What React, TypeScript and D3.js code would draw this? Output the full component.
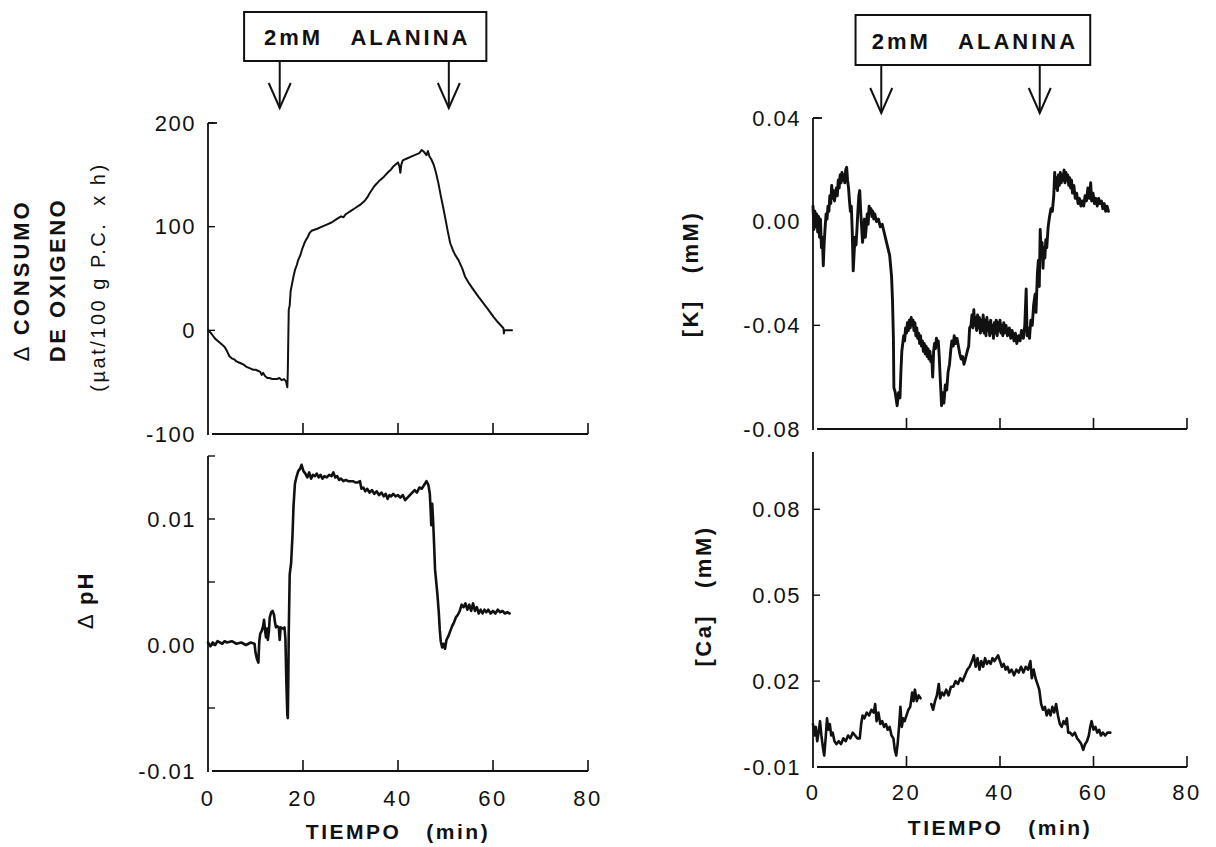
import React from 'react';
import * as d3 from 'd3';

// ---------- data ----------
const TIME_TICKS = [0, 20, 40, 60, 80];
const TIME_TICK_LABELS = ['0', '20', '40', '60', '80'];

const O2_TICKS = [200, 100, 0, -100];
const O2_TICK_LABELS = ['200', '100', '0', '-100'];
const PH_TICKS = [0.015, 0.01, 0.005, 0, -0.005, -0.01];
const PH_TICK_LABELS = ['', '0.01', '', '0.00', '', '-0.01'];
const K_TICKS = [0.04, 0, -0.04, -0.08];
const K_TICK_LABELS = ['0.04', '0.00', '-0.04', '-0.08'];
const CA_TICKS = [0.08, 0.05, 0.02, -0.01];
const CA_TICK_LABELS = ['0.08', '0.05', '0.02', '-0.01'];

const ANNOTATION_TEXT = '2mM ALANINA';
const ARROWS_LEFT = [15.1, 50.7];
const ARROWS_RIGHT = [14.6, 48.5];
const BOX_LEFT = [7.6, 58.6];
const BOX_RIGHT = [9.1, 59.3];

type Pt = [number, number | null];

const O2_TRACE: Pt[] = [
  [0, 0], [0.5, -2], [1, -5], [1.5, -8], [2, -10], [2.5, -12], [3, -14], [3.5, -16], [4, -20], [4.5, -25],
  [5, -27], [5.5, -28], [6, -30], [6.5, -31], [7, -32], [7.5, -33], [8, -35], [8.5, -36], [9, -37], [9.5, -38],
  [10, -38], [10.5, -39], [11, -40], [11.3, -43], [11.6, -41], [12, -44], [12.5, -46], [13, -46], [13.5, -47],
  [14, -47], [14.5, -47], [15, -46], [15.5, -48], [16, -47], [16.4, -49], [16.7, -55], [16.8, -40], [16.9, -10],
  [17.0, 20], [17.2, 24], [17.4, 38], [17.7, 45], [18.0, 52], [18.3, 58], [18.7, 63], [19.0, 68], [19.4, 72],
  [19.8, 78], [20.2, 83], [20.6, 87], [21.0, 90], [21.4, 94], [21.8, 96], [22.4, 97], [23, 98], [24, 100],
  [25, 102], [26, 104], [27, 107], [28, 110], [28.5, 109], [29, 112], [30, 115], [31, 118], [32, 121], [33, 125],
  [33.5, 128], [34, 132], [35, 139], [36, 144], [37, 148], [38, 153], [38.5, 155], [39, 158], [40, 162],
  [40.3, 158], [40.5, 152], [40.7, 160], [41, 164], [42, 166], [43, 168], [43.5, 169], [44, 170], [44.5, 171],
  [45, 174], [45.5, 172], [46, 169], [46.3, 173], [46.6, 168], [47, 165], [47.5, 160], [48, 152], [48.5, 142],
  [49, 130], [49.5, 119], [50, 107], [50.5, 95], [51, 84], [51.5, 78], [52, 73], [52.7, 68], [53.5, 60],
  [54.1, 52], [55, 45], [55.9, 39], [57, 32], [58, 26], [59, 20], [60.1, 13], [61, 8], [62.2, 2], [62.3, -3],
  [62.4, 0], [64, 0],
];

const PH_TRACE: Pt[] = [
  [0, 0.0002], [0.5, -0.0001], [1, 0.0002], [1.5, 0.0], [2, 0.0003], [3, 0.0001], [3.5, 0.0003], [4, 0.0002],
  [5, 0.0003], [6, 0.0001], [7, 0.0002], [8, 0.0], [9, 0.0002], [9.8, 0.0001], [10.0, -0.0006], [10.3, -0.0011],
  [10.6, -0.0014], [10.8, 0.0003], [11.0, 0.0009], [11.3, 0.0011], [11.6, 0.0015], [11.8, 0.002], [12.0, 0.0012],
  [12.2, 0.0006], [12.4, 0.0013], [12.6, 0.0004], [12.8, 0.001], [13.0, 0.0022], [13.3, 0.0026], [13.6, 0.0027],
  [13.9, 0.0024], [14.1, 0.0018], [14.3, 0.0014], [14.6, 0.0015], [14.9, 0.0014], [15.1, 0.0004], [15.3, 0.0014],
  [15.8, 0.0013], [16.1, 0.0014], [16.3, 0.0005], [16.5, -0.003], [16.7, -0.0055], [16.8, -0.0058], [16.9, -0.003],
  [17.0, 0.001], [17.2, 0.0056], [17.5, 0.0065], [17.8, 0.0088], [18.0, 0.011], [18.3, 0.0128], [18.6, 0.0133],
  [19.0, 0.0138], [19.4, 0.014], [19.7, 0.0143], [20.1, 0.0138], [20.5, 0.0136], [20.9, 0.0133], [21.3, 0.0137],
  [21.7, 0.0132], [22.1, 0.0135], [22.5, 0.0134], [22.9, 0.0136], [23.3, 0.0133], [23.7, 0.0135], [24.1, 0.0132],
  [24.5, 0.0134], [25.0, 0.0133], [25.5, 0.0135], [26.0, 0.0134], [26.4, 0.0137], [26.8, 0.0133], [27.2, 0.0134],
  [27.6, 0.0131], [28.0, 0.0132], [28.5, 0.013], [29.0, 0.0131], [29.5, 0.013], [30, 0.013], [30.5, 0.013],
  [31, 0.0129], [31.5, 0.0129], [32.0, 0.013], [32.3, 0.0124], [32.7, 0.0125], [33.1, 0.0122], [33.5, 0.0124],
  [34.0, 0.0121], [34.5, 0.0123], [35.0, 0.012], [35.5, 0.0122], [36, 0.0119], [36.5, 0.0121], [37, 0.0118],
  [37.4, 0.012], [37.8, 0.0116], [38.2, 0.0119], [38.6, 0.0118], [39, 0.012], [39.5, 0.0118], [40, 0.0119],
  [40.5, 0.0117], [41, 0.0119], [41.5, 0.0115], [42, 0.0117], [42.5, 0.0119], [43, 0.0121], [43.5, 0.0123],
  [44, 0.0121], [44.5, 0.0125], [45, 0.0124], [45.5, 0.0127], [46, 0.013], [46.4, 0.0127], [46.7, 0.012],
  [46.9, 0.0105], [47.0, 0.0095], [47.2, 0.0112], [47.4, 0.0098], [47.6, 0.008], [47.8, 0.006], [48.0, 0.0052],
  [48.3, 0.004], [48.6, 0.0025], [48.8, 0.0012], [49.0, 0.0003], [49.3, -0.0002], [49.6, 0.0001], [49.9, -0.0003],
  [50.2, 0.0004], [50.6, 0.0007], [51.0, 0.0011], [51.4, 0.0015], [51.8, 0.0018], [52.2, 0.0022], [52.6, 0.0024],
  [53.0, 0.0027], [53.4, 0.0032], [53.8, 0.003], [54.2, 0.0033], [54.6, 0.0028], [55.0, 0.0032], [55.4, 0.0027],
  [55.8, 0.0033], [56.2, 0.0027], [56.6, 0.003], [57, 0.0025], [57.4, 0.0028], [57.8, 0.0025], [58.2, 0.0028],
  [58.6, 0.0026], [59, 0.0028], [59.5, 0.0025], [60, 0.0027], [60.5, 0.0025], [61, 0.0028], [61.5, 0.0026],
  [62, 0.0027], [62.5, 0.0025], [63, 0.0026], [63.5, 0.0025],
];

const K_TRACE: Pt[] = [
  [0, 0.006], [0.2, -0.003], [0.4, 0.004], [0.6, -0.002], [0.8, 0.003], [1.0, -0.004], [1.2, 0.002], [1.4, -0.006],
  [1.6, 0.001], [1.8, -0.01], [2.0, -0.006], [2.2, -0.017], [2.4, -0.008], [2.6, -0.002], [2.8, 0.003], [3.0, 0.001],
  [3.2, 0.006], [3.4, 0.004], [3.6, 0.01], [3.8, 0.007], [4.0, 0.014], [4.2, 0.009], [4.4, 0.012], [4.6, 0.008],
  [4.8, 0.011], [5.0, 0.013], [5.2, 0.01], [5.4, 0.016], [5.6, 0.013], [5.8, 0.018], [6.0, 0.015], [6.2, 0.019],
  [6.4, 0.016], [6.6, 0.018], [6.8, 0.015], [7.0, 0.02], [7.2, 0.021], [7.4, 0.016], [7.6, 0.013], [7.8, 0.008],
  [8.0, 0.004], [8.2, 0.006], [8.4, -0.004], [8.6, -0.019], [8.8, -0.012], [9.0, -0.006], [9.2, -0.009],
  [9.4, -0.003], [9.6, 0.004], [9.8, 0.01], [10.0, 0.012], [10.2, 0.004], [10.4, -0.002], [10.6, -0.008],
  [10.8, -0.004], [11.0, 0.001], [11.2, -0.006], [11.4, -0.002], [11.6, 0.003], [11.8, -0.001], [12.0, 0.006],
  [12.2, 0.004], [12.4, 0.005], [12.6, 0.002], [12.8, 0.004], [13.0, 0.001], [13.2, 0.003], [13.6, 0.0],
  [14.0, 0.001], [14.4, -0.002], [14.8, -0.001], [15.2, -0.004], [15.6, -0.007], [16.0, -0.01], [16.4, -0.013],
  [16.8, -0.021], [17.0, -0.03], [17.2, -0.045], [17.3, -0.064], [17.6, -0.066], [18.0, -0.071], [18.3, -0.066],
  [18.6, -0.068], [18.8, -0.058], [19.0, -0.05], [19.2, -0.047], [19.4, -0.044], [19.6, -0.046], [19.8, -0.041],
  [20.0, -0.043], [20.2, -0.039], [20.4, -0.042], [20.6, -0.038], [20.8, -0.041], [21.0, -0.037], [21.2, -0.04],
  [21.4, -0.038], [21.6, -0.042], [21.8, -0.039], [22.0, -0.044], [22.2, -0.041], [22.4, -0.045], [22.6, -0.043],
  [22.8, -0.047], [23.0, -0.044], [23.2, -0.048], [23.4, -0.046], [23.6, -0.05], [23.8, -0.047], [24.0, -0.051],
  [24.2, -0.048], [24.4, -0.052], [24.6, -0.049], [24.8, -0.053], [25.0, -0.05], [25.2, -0.054], [25.4, -0.052],
  [25.6, -0.06], [25.8, -0.05], [26.0, -0.047], [26.2, -0.049], [26.4, -0.045], [26.6, -0.048], [26.8, -0.046],
  [27.0, -0.052], [27.2, -0.06], [27.5, -0.071], [27.8, -0.066], [28.0, -0.07], [28.3, -0.063], [28.6, -0.065],
  [28.9, -0.058], [29.2, -0.055], [29.5, -0.049], [29.7, -0.046], [30.0, -0.048], [30.2, -0.044], [30.5, -0.047],
  [30.8, -0.045], [31.1, -0.048], [31.4, -0.051], [31.7, -0.053], [32.0, -0.052], [32.3, -0.055], [32.6, -0.053],
  [33.0, -0.05], [33.3, -0.048], [33.5, -0.041], [33.8, -0.04], [34.0, -0.036], [34.2, -0.041], [34.4, -0.034],
  [34.6, -0.04], [34.8, -0.037], [35.0, -0.042], [35.2, -0.036], [35.4, -0.041], [35.6, -0.037], [35.8, -0.043],
  [36.0, -0.038], [36.2, -0.042], [36.4, -0.036], [36.6, -0.043], [36.8, -0.038], [37.0, -0.044], [37.2, -0.037],
  [37.4, -0.042], [37.6, -0.039], [37.8, -0.044], [38.0, -0.038], [38.2, -0.043], [38.4, -0.04], [38.6, -0.045],
  [38.8, -0.039], [39.0, -0.043], [39.2, -0.038], [39.4, -0.044], [39.6, -0.039], [39.8, -0.042], [40.0, -0.038],
  [40.2, -0.043], [40.4, -0.04], [40.6, -0.044], [40.8, -0.039], [41.0, -0.043], [41.3, -0.04], [41.6, -0.044],
  [42.0, -0.041], [42.3, -0.045], [42.6, -0.042], [43.0, -0.046], [43.3, -0.043], [43.6, -0.047], [44.0, -0.044],
  [44.3, -0.046], [44.6, -0.042], [45.0, -0.045], [45.3, -0.04], [45.6, -0.026], [45.8, -0.044], [46.0, -0.041],
  [46.3, -0.045], [46.6, -0.038], [46.9, -0.04], [47.2, -0.032], [47.5, -0.028], [47.7, -0.035], [48.0, -0.02],
  [48.2, -0.015], [48.4, -0.025], [48.6, -0.003], [48.8, -0.012], [49.0, -0.008], [49.2, -0.018], [49.4, -0.01],
  [49.6, -0.014], [49.8, -0.007], [50.0, -0.01], [50.3, -0.002], [50.6, 0.002], [50.9, 0.005], [51.2, 0.004],
  [51.5, 0.01], [51.7, 0.019], [51.9, 0.013], [52.1, 0.017], [52.3, 0.012], [52.5, 0.018], [52.7, 0.014],
  [52.9, 0.019], [53.1, 0.015], [53.3, 0.018], [53.5, 0.016], [53.7, 0.02], [53.9, 0.015], [54.1, 0.019],
  [54.3, 0.016], [54.5, 0.018], [54.7, 0.014], [54.9, 0.017], [55.1, 0.013], [55.3, 0.016], [55.5, 0.011],
  [55.8, 0.014], [56.1, 0.009], [56.4, 0.011], [56.7, 0.007], [57.0, 0.009], [57.3, 0.006], [57.6, 0.008],
  [57.9, 0.006], [58.2, 0.01], [58.5, 0.008], [58.8, 0.013], [59.1, 0.009], [59.4, 0.015], [59.6, 0.008],
  [59.9, 0.011], [60.2, 0.007], [60.5, 0.009], [60.8, 0.006], [61.1, 0.009], [61.4, 0.007], [61.7, 0.008],
  [62.0, 0.005], [62.3, 0.007], [62.6, 0.004], [62.9, 0.006], [63.2, 0.004],
];

const CA_TRACE: Pt[] = [
  [0, 0.005], [0.3, 0.001], [0.6, 0.004], [0.9, -0.001], [1.2, 0.002], [1.5, 0.006], [1.8, 0.001], [2.1, -0.003],
  [2.4, -0.006], [2.7, 0.0], [3.0, 0.007], [3.3, 0.003], [3.6, 0.005], [3.9, 0.001], [4.2, 0.002], [4.6, -0.001],
  [5.0, -0.002], [5.5, -0.001], [6.0, -0.002], [6.5, 0.0], [7.0, -0.001], [7.5, 0.001], [8.0, 0.0], [8.5, 0.002],
  [9.0, 0.001], [9.5, 0.0], [10.0, 0.0], [10.3, 0.005], [10.6, 0.008], [11.0, 0.007], [11.5, 0.009], [12.0, 0.008],
  [12.5, 0.01], [13.0, 0.009], [13.3, 0.012], [13.6, 0.006], [14.0, 0.009], [14.4, 0.005], [14.8, 0.006],
  [15.2, 0.004], [15.6, 0.005], [16.0, 0.003], [16.4, 0.004], [16.8, 0.001], [17.2, 0.0], [17.5, -0.004],
  [17.8, -0.006], [18.1, -0.002], [18.4, 0.004], [18.7, 0.011], [19.0, 0.004], [19.3, 0.007], [19.6, 0.006],
  [20.0, 0.008], [20.4, 0.01], [20.8, 0.011], [21.2, 0.016], [21.5, 0.013], [21.8, 0.017], [22.2, 0.013],
  [22.6, 0.015], [23.0, 0.014], [24.0, null], [25.3, 0.012], [25.7, 0.01], [26.1, 0.013], [26.5, 0.015],
  [26.9, 0.019], [27.2, 0.014], [27.6, 0.016], [28.0, 0.015], [28.5, 0.017], [29.0, 0.015], [29.5, 0.018],
  [30.0, 0.018], [30.5, 0.02], [31.0, 0.019], [31.5, 0.021], [32.0, 0.02], [32.5, 0.022], [33.0, 0.024],
  [33.5, 0.025], [34.0, 0.027], [34.4, 0.029], [34.8, 0.025], [35.2, 0.028], [35.6, 0.024], [36.0, 0.027],
  [36.4, 0.025], [36.8, 0.028], [37.2, 0.026], [37.6, 0.027], [38.0, 0.026], [38.4, 0.028], [38.8, 0.027],
  [39.2, 0.028], [39.6, 0.029], [40.0, 0.027], [40.4, 0.025], [40.8, 0.026], [41.2, 0.024], [41.6, 0.025],
  [42.0, 0.023], [42.5, 0.024], [43.0, 0.022], [43.5, 0.024], [44.0, 0.023], [44.5, 0.025], [45.0, 0.023],
  [45.5, 0.025], [46.0, 0.024], [46.5, 0.027], [46.8, 0.021], [47.2, 0.024], [47.6, 0.021], [48.0, 0.019],
  [48.4, 0.017], [48.8, 0.012], [49.2, 0.01], [49.6, 0.011], [50.0, 0.008], [50.4, 0.01], [50.8, 0.008],
  [51.2, 0.011], [51.6, 0.009], [52.0, 0.012], [52.4, 0.008], [52.8, 0.005], [53.2, 0.004], [53.6, 0.006],
  [54.0, 0.005], [54.3, 0.007], [54.6, 0.002], [55.0, 0.002], [55.5, 0.001], [56.0, 0.002], [56.5, 0.0],
  [57.0, -0.001], [57.4, -0.002], [57.8, -0.004], [58.2, -0.002], [58.6, -0.001], [59.0, 0.001], [59.3, 0.004],
  [59.6, 0.006], [60.0, 0.003], [60.4, 0.004], [60.8, 0.002], [61.2, 0.003], [61.6, 0.001], [62.0, 0.002],
  [62.5, 0.001], [63.0, 0.002], [63.6, 0.002],
];

// ---------- drawing ----------
const FONT = "'Liberation Sans', Arial, Helvetica, sans-serif";
const INK = '#111';

type Scale = d3.ScaleLinear<number, number>;

function Panel(props: {
  xs: Scale; ys: Scale; data: Pt[]; ticks: number[]; tickLabels: string[];
  topBracket: boolean; xLabels: boolean; traceWidth: number; xLabelY: number;
}) {
  const { xs, ys, data, ticks, tickLabels, topBracket, xLabels, traceWidth, xLabelY } = props;
  const x0 = xs(0);
  const [yBottom, yTop] = ys.range();
  const line = d3.line<Pt>()
    .defined((d) => d[1] !== null)
    .x((d) => xs(d[0]))
    .y((d) => ys(d[1] as number));
  const bottomVal = ys.domain()[0];
  return (
    <g>
      <line x1={x0} x2={x0} y1={yTop} y2={yBottom + 1} stroke={INK} strokeWidth={1.8} />
      {topBracket && <line x1={x0} x2={x0 + 9} y1={yTop} y2={yTop} stroke={INK} strokeWidth={1.8} />}
      {ticks.filter((t) => t !== bottomVal).map((t) => (
        <line key={'yt' + t} x1={x0} x2={x0 + 7} y1={ys(t)} y2={ys(t)} stroke={INK} strokeWidth={1.4} />
      ))}
      {ticks.map((t, i) => tickLabels[i] ? (
        <text key={'yl' + t} x={x0 - 12} y={ys(t)} textAnchor="end" dominantBaseline="central"
          fontFamily={FONT} fontSize={22} letterSpacing={1.5} fill={INK}>{tickLabels[i]}</text>
      ) : null)}
      <line x1={x0 + 4} x2={xs(80)} y1={yBottom} y2={yBottom} stroke={INK} strokeWidth={1.8} />
      {TIME_TICKS.filter((t) => t > 0).map((t) => (
        <line key={'xt' + t} x1={xs(t)} x2={xs(t)} y1={yBottom} y2={yBottom - 11} stroke={INK} strokeWidth={1.6} />
      ))}
      {xLabels && TIME_TICKS.map((t, i) => (
        <text key={'xl' + t} x={xs(t)} y={xLabelY} textAnchor="middle" dominantBaseline="central"
          fontFamily={FONT} fontSize={22} letterSpacing={2.5} fill={INK}>{TIME_TICK_LABELS[i]}</text>
      ))}
      <path d={line(data) || ''} fill="none" stroke={INK} strokeWidth={traceWidth}
        strokeLinejoin="round" strokeLinecap="round" />
    </g>
  );
}

function Annotation(props: { xs: Scale; box: number[]; arrows: number[]; top: number; bottom: number; tip: number }) {
  const { xs, box, arrows, top, bottom, tip } = props;
  const bx0 = xs(box[0]);
  const bx1 = xs(box[1]);
  const parts = ANNOTATION_TEXT.split(' ');
  return (
    <g>
      <rect x={bx0} y={top} width={bx1 - bx0} height={bottom - top} fill="#fff" stroke={INK} strokeWidth={2} />
      <text x={(bx0 + bx1) / 2 + 2} y={(top + bottom) / 2 + 1} textAnchor="middle" dominantBaseline="central"
        fontFamily={FONT} fontWeight="bold" fontSize={22} letterSpacing={3} fill={INK}>
        {parts[0] + '\u00a0\u00a0\u00a0' + parts[1]}
      </text>
      {arrows.map((a) => {
        const ax = xs(a);
        return (
          <g key={'ar' + a}>
            <line x1={ax} x2={ax} y1={bottom} y2={tip} stroke={INK} strokeWidth={2} />
            <polyline points={`${ax - 11},${tip - 25} ${ax},${tip} ${ax + 11},${tip - 25}`} fill="none"
              stroke={INK} strokeWidth={2} />
          </g>
        );
      })}
    </g>
  );
}

export default function App() {
  const W = 1216;
  const H = 847;
  const xLeft = d3.scaleLinear().domain([0, 80]).range([208, 588]);
  const xRight = d3.scaleLinear().domain([0, 80]).range([813, 1187]);
  const yO2 = d3.scaleLinear().domain([-100, 200]).range([434, 123]);
  const yPH = d3.scaleLinear().domain([-0.01, 0.015]).range([771, 456]);
  const yK = d3.scaleLinear().domain([-0.08, 0.04]).range([429, 118]);
  const yCa = d3.scaleLinear().domain([-0.01, 0.1]).range([767, 452]);

  const bold = { fontFamily: FONT, fontWeight: 'bold' as const, fill: INK };

  return (
    <svg width={W} height={H} viewBox={`0 0 ${W} ${H}`}
      style={{ position: 'absolute', left: 0, top: 0, background: '#fff' }}>
      <rect x={0} y={0} width={W} height={H} fill="#fff" />

      <Panel xs={xLeft} ys={yO2} data={O2_TRACE} ticks={O2_TICKS} tickLabels={O2_TICK_LABELS}
        topBracket xLabels={false} traceWidth={2} xLabelY={0} />
      <Panel xs={xLeft} ys={yPH} data={PH_TRACE} ticks={PH_TICKS} tickLabels={PH_TICK_LABELS}
        topBracket={false} xLabels traceWidth={2.6} xLabelY={798} />
      <Panel xs={xRight} ys={yK} data={K_TRACE} ticks={K_TICKS} tickLabels={K_TICK_LABELS}
        topBracket xLabels={false} traceWidth={2.9} xLabelY={0} />
      <Panel xs={xRight} ys={yCa} data={CA_TRACE} ticks={CA_TICKS} tickLabels={CA_TICK_LABELS}
        topBracket={false} xLabels traceWidth={2.6} xLabelY={792} />

      <Annotation xs={xLeft} box={BOX_LEFT} arrows={ARROWS_LEFT} top={12} bottom={61} tip={108} />
      <Annotation xs={xRight} box={BOX_RIGHT} arrows={ARROWS_RIGHT} top={15} bottom={65} tip={113} />

      {/* x axis titles */}
      <text x={398} y={831} textAnchor="middle" dominantBaseline="central" fontSize={21} letterSpacing={2.5} {...bold}>
        {'TIEMPO\u00a0\u00a0\u00a0(min)'}
      </text>
      <text x={1000} y={827} textAnchor="middle" dominantBaseline="central" fontSize={21} letterSpacing={2.5} {...bold}>
        {'TIEMPO\u00a0\u00a0\u00a0(min)'}
      </text>

      {/* y axis titles */}
      <text transform="translate(21,280) rotate(-90)" textAnchor="middle" dominantBaseline="central"
        fontSize={22} letterSpacing={3} {...bold}>
        <tspan fontWeight="normal">{'\u2206'}</tspan>{'\u00a0CONSUMO'}
      </text>
      <text transform="translate(57,280) rotate(-90)" textAnchor="middle" dominantBaseline="central"
        fontSize={22} letterSpacing={2.5} {...bold}>DE OXIGENO</text>
      <text transform="translate(98,277) rotate(-90)" textAnchor="middle" dominantBaseline="central"
        fontFamily={FONT} fontSize={20} letterSpacing={2.5} fill={INK}>
        {'(\u00b5at/100\u00a0g\u00a0P.C.\u00a0\u00a0x\u00a0h)'}
      </text>
      <text transform="translate(85,600) rotate(-90)" textAnchor="middle" dominantBaseline="central"
        fontFamily={FONT} fontSize={22} letterSpacing={2} fill={INK}>
        {'\u2206\u00a0'}<tspan fontWeight="bold">pH</tspan>
      </text>
      <text transform="translate(690,274) rotate(-90)" textAnchor="middle" dominantBaseline="central"
        fontSize={22} letterSpacing={2.5} {...bold}>{'[K]\u00a0\u00a0\u00a0(mM)'}</text>
      <text transform="translate(703,596) rotate(-90)" textAnchor="middle" dominantBaseline="central"
        fontSize={22} letterSpacing={2.5} {...bold}>{'[Ca]\u00a0\u00a0\u00a0(mM)'}</text>
    </svg>
  );
}
